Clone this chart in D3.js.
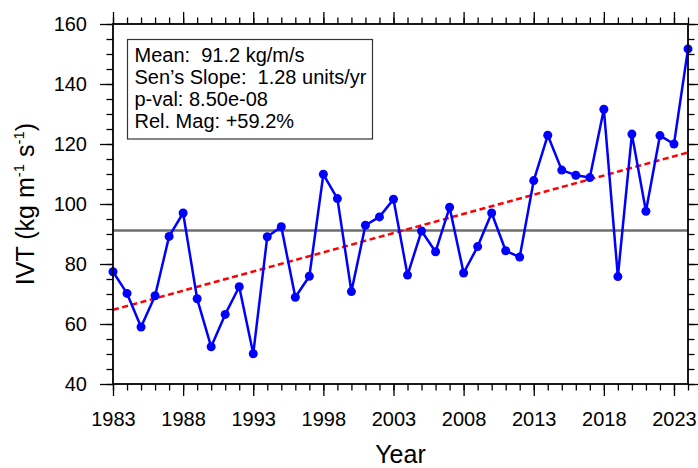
<!DOCTYPE html>
<html>
    <head>
        <script src="https://d3js.org/d3.v7.min.js"></script>
        <style>
            body { margin: 0; background: #fff; }
            text { font-family: "Liberation Sans", Arial, Helvetica, sans-serif; }
        </style>
    </head>
    <body>
        <svg height="468" width="698" id="chart"></svg>
        <script>
            // values
            const years=d3.range(1983, 2025);
            const ivt=[77.4, 70.2, 59.0, 69.4, 89.2, 97.0, 68.4, 52.4, 63.2, 72.4,
                       50.1, 89.1, 92.4, 68.9, 75.9, 109.9, 101.8, 70.8, 92.9, 95.7,
                       101.6, 76.3, 91.0, 84.1, 98.9, 77.0, 85.8, 97.0, 84.4, 82.3,
                       107.8, 122.9, 111.3, 109.6, 108.8, 131.6, 75.8, 123.3, 97.6, 122.8,
                       120.0, 151.7];
            const meanIvt=91.2;
            const senSlope=1.28;
            const trendStart=64.7;   // trend value at 1983
            const statLines=["Mean:  91.2 kg/m/s", "Sen\u2019s Slope:  1.28 units/yr", "p-val: 8.50e-08", "Rel. Mag: +59.2%"];
            const yMajor=[40, 60, 80, 100, 120, 140, 160];
            const xMajor=[1983, 1988, 1993, 1998, 2003, 2008, 2013, 2018, 2023];

            let svg=d3.select("#chart");
            let plotL=113, plotR=688, plotT=24, plotB=384;

            let x=d3.scaleLinear().domain([1983, 2024]).range([plotL, plotR]);
            let y=d3.scaleLinear().domain([40, 160]).range([plotB, plotT]);

            // mean line
            svg.append("line")
                .attr("x1", x(1983)).attr("x2", x(2024))
                .attr("y1", y(meanIvt)).attr("y2", y(meanIvt))
                .style("stroke", "#6e6e6e")
                .style("stroke-width", 2.5);

            // sen's slope trend
            let trend=[1983, 2024].map(function(d){ return [d, trendStart+senSlope*(d-1983)]; });
            svg.append("path")
                .datum(trend)
                .attr("d", d3.line().x(d=>x(d[0])).y(d=>y(d[1])))
                .style("fill", "none")
                .style("stroke", "#ff0000")
                .style("stroke-width", 2.5)
                .style("stroke-dasharray", "6,3.5");

            // series
            let series=years.map((d, i)=>[d, ivt[i]]);
            svg.append("path")
                .datum(series)
                .attr("d", d3.line().x(d=>x(d[0])).y(d=>y(d[1])))
                .style("fill", "none")
                .style("stroke", "#0000ff")
                .style("stroke-width", 2.5)
                .style("stroke-linejoin", "round");
            svg.selectAll(".dot")
                .data(series)
                .enter().append("circle")
                .attr("class", "dot")
                .attr("cx", d=>x(d[0]))
                .attr("cy", d=>y(d[1]))
                .attr("r", 4.5)
                .style("fill", "#0000ff");

            // axes, ticks pointing outward
            const addAxis=function(axis, tx, ty){
                let g=svg.append("g").attr("transform", "translate("+tx+","+ty+")").call(axis);
                g.select(".domain").remove();
                g.selectAll("line").style("stroke", "#000").style("stroke-width", 1.3);
                g.selectAll("text").style("font-size", "20px").style("fill", "#000");
                return g;
            };
            let minorX=d3.range(1983, 2025);
            let minorY=d3.range(40, 161, 5);
            addAxis(d3.axisBottom(x).tickValues(minorX).tickSize(6.5).tickFormat(""), 0, plotB);
            addAxis(d3.axisBottom(x).tickValues(xMajor).tickSize(12).tickPadding(16).tickFormat(d3.format("d")), 0, plotB);
            addAxis(d3.axisTop(x).tickValues(minorX).tickSize(6.5).tickFormat(""), 0, plotT);
            addAxis(d3.axisTop(x).tickValues(xMajor).tickSize(12).tickFormat(""), 0, plotT);
            addAxis(d3.axisLeft(y).tickValues(minorY).tickSize(6.5).tickFormat(""), plotL, 0);
            addAxis(d3.axisLeft(y).tickValues(yMajor).tickSize(13).tickPadding(13), plotL, 0);
            addAxis(d3.axisRight(y).tickValues(minorY).tickSize(6.5).tickFormat(""), plotR, 0);
            addAxis(d3.axisRight(y).tickValues(yMajor).tickSize(13).tickFormat(""), plotR, 0);

            svg.append("rect")
                .attr("x", plotL).attr("y", plotT)
                .attr("width", plotR-plotL).attr("height", plotB-plotT)
                .style("fill", "none")
                .style("stroke", "#000")
                .style("stroke-width", 1.8);

            // stats box
            svg.append("rect")
                .attr("x", 127.5).attr("y", 39.5)
                .attr("width", 245).attr("height", 99.5)
                .style("fill", "#fff")
                .style("stroke", "#333")
                .style("stroke-width", 1.2);
            svg.selectAll(".stat")
                .data(statLines)
                .enter().append("text")
                .attr("class", "stat")
                .attr("x", 134.5)
                .attr("y", (d, i)=>61.7+i*22)
                .style("font-size", "20px")
                .style("white-space", "pre")
                .attr("xml:space", "preserve")
                .text(d=>d);

            // titles
            svg.append("text")
                .attr("x", (plotL+plotR)/2)
                .attr("y", 463)
                .attr("text-anchor", "middle")
                .style("font-size", "25px")
                .text("Year");

            let yt=svg.append("text")
                .attr("transform", "translate(34,204) rotate(-90)")
                .attr("text-anchor", "middle")
                .style("font-size", "25px")
                .attr("xml:space", "preserve");
            yt.append("tspan").text("IVT (kg m");
            yt.append("tspan").attr("dy", -10).style("font-size", "15px").text("-1");
            yt.append("tspan").attr("dy", 10).text(" s");
            yt.append("tspan").attr("dy", -10).style("font-size", "15px").text("-1");
            yt.append("tspan").attr("dy", 10).text(")");
        </script>
    </body>
</html>
